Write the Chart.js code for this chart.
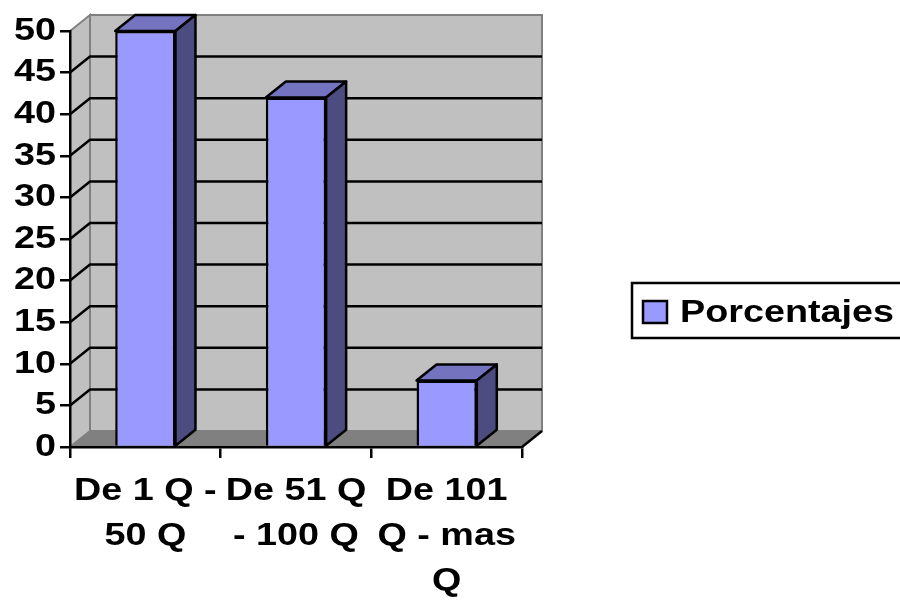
<!DOCTYPE html>
<html>
<head>
<meta charset="utf-8">
<script src="https://cdn.jsdelivr.net/npm/chart.js@4/dist/chart.umd.min.js"></script>
<style>
  html,body{margin:0;padding:0;background:#fff;}
  canvas{display:block;}
</style>
</head>
<body>
<canvas id="c" width="900" height="601"></canvas>
<script>
// ---- data ----
const categories = [["De 1 Q -", "50 Q"], ["De 51 Q", "- 100 Q"], ["De 101", "Q - mas", "Q"]];
const seriesName = "Porcentajes";
const porcentajes = [50, 42, 8];
const yMin = 0, yMax = 50, yStep = 5;

// ---- style ----
const FONT = '"Liberation Sans", Arial, sans-serif';
const TEXT_STRETCH = 1.18;   // the reference text is horizontally widened
const DX = 20, DY = 16;
const LW = 2.5;
const FRONT = '#9999FF', TOP = '#7373BF', SIDE = '#4C4C80';
const WALL = '#C0C0C0', FLOOR = '#808080', EDGE = '#808080';

function poly(ctx, pts, fill, stroke, lw) {
  ctx.beginPath();
  ctx.moveTo(pts[0][0], pts[0][1]);
  for (let i = 1; i < pts.length; i++) ctx.lineTo(pts[i][0], pts[i][1]);
  ctx.closePath();
  if (fill) { ctx.fillStyle = fill; ctx.fill(); }
  if (stroke) { ctx.strokeStyle = stroke; ctx.lineWidth = lw || 2; ctx.stroke(); }
}

const threeD = {
  id: 'threeD',
  beforeInit(chart) {
    const ctx = chart.ctx;
    const orig = ctx.fillText.bind(ctx);
    ctx.fillText = function (t, x, y) {
      ctx.save();
      ctx.translate(x, y);
      ctx.scale(TEXT_STRETCH, 1);
      orig(t, 0, 0);
      ctx.restore();
    };
  },
  beforeDraw(chart) {
    const { ctx, chartArea: a, scales: { y } } = chart;
    ctx.save();
    ctx.lineJoin = 'miter';
    // left side wall
    poly(ctx, [[a.left, a.top], [a.left + DX, a.top - DY], [a.left + DX, a.bottom - DY], [a.left, a.bottom]], WALL, EDGE, 2);
    // back wall
    poly(ctx, [[a.left + DX, a.top - DY], [a.right + DX, a.top - DY], [a.right + DX, a.bottom - DY], [a.left + DX, a.bottom - DY]], WALL, EDGE, 2);
    // floor
    poly(ctx, [[a.left, a.bottom], [a.left + DX, a.bottom - DY], [a.right + DX, a.bottom - DY], [a.right, a.bottom]], FLOOR, null);
    // gridlines on side and back walls
    ctx.strokeStyle = '#000';
    ctx.lineWidth = LW;
    y.ticks.forEach(t => {
      if (t.value <= yMin || t.value >= yMax) return;
      const yy = y.getPixelForValue(t.value);
      ctx.beginPath();
      ctx.moveTo(a.left, yy);
      ctx.lineTo(a.left + DX, yy - DY);
      ctx.lineTo(a.right + DX, yy - DY);
      ctx.stroke();
    });
    // floor front-right edge
    ctx.beginPath();
    ctx.moveTo(a.right, a.bottom);
    ctx.lineTo(a.right + DX, a.bottom - DY);
    ctx.stroke();
    ctx.restore();
  },
  afterDatasetsDraw(chart) {
    const { ctx } = chart;
    const meta = chart.getDatasetMeta(0);
    ctx.save();
    ctx.lineJoin = 'round';
    meta.data.forEach(el => {
      const p = el.getProps(['x', 'y', 'base', 'width'], true);
      const x1 = p.x - p.width / 2, x2 = p.x + p.width / 2;
      const top = p.y, base = p.base;
      poly(ctx, [[x1, top], [x1 + DX, top - DY], [x2 + DX, top - DY], [x2, top]], TOP, '#000', LW);
      poly(ctx, [[x2, top], [x2 + DX, top - DY], [x2 + DX, base - DY], [x2, base]], SIDE, '#000', LW);
    });
    ctx.restore();
  },
  afterDraw(chart) {
    const { ctx } = chart;
    const ds = chart.data.datasets[0];
    ctx.save();
    // legend frame
    ctx.strokeStyle = '#000';
    ctx.lineWidth = LW;
    ctx.strokeRect(632, 283, 280, 55);
    // swatch
    ctx.fillStyle = ds.backgroundColor;
    ctx.fillRect(643, 301, 24, 22);
    ctx.strokeRect(643, 301, 24, 22);
    // text
    ctx.fillStyle = '#000';
    ctx.font = 'bold 32px ' + FONT;
    ctx.textBaseline = 'middle';
    ctx.textAlign = 'left';
    ctx.fillText(ds.label, 680, 313);
    ctx.restore();
  }
};

new Chart(document.getElementById('c'), {
  type: 'bar',
  data: {
    labels: categories,
    datasets: [{
      label: seriesName,
      data: porcentajes,
      backgroundColor: FRONT,
      borderColor: '#000',
      borderWidth: LW,
      categoryPercentage: 1,
      barPercentage: 0.4
    }]
  },
  options: {
    responsive: false,
    animation: false,
    devicePixelRatio: 1,
    layout: { padding: { left: 0, top: 31, right: 378, bottom: 0 } },
    plugins: { legend: { display: false }, tooltip: { enabled: false } },
    scales: {
      x: {
        offset: true,
        grid: { offset: true, drawOnChartArea: false, drawTicks: true, tickLength: 11, color: '#000', lineWidth: LW },
        border: { display: true, color: '#000', width: LW },
        ticks: { color: '#000', font: { family: FONT, size: 32, weight: 'bold', lineHeight: 1.4 }, maxRotation: 0, autoSkip: false, padding: 11 },
        afterFit(s) { s.height = 154; }
      },
      y: {
        min: yMin, max: yMax,
        grid: { drawOnChartArea: false, drawTicks: true, tickLength: 10, color: '#000', lineWidth: LW },
        border: { display: true, color: '#000', width: LW },
        ticks: { stepSize: yStep, color: '#000', font: { family: FONT, size: 32, weight: 'bold' }, padding: 4 },
        afterFit(s) { s.width = 70; }
      }
    }
  },
  plugins: [threeD]
});
</script>
</body>
</html>
